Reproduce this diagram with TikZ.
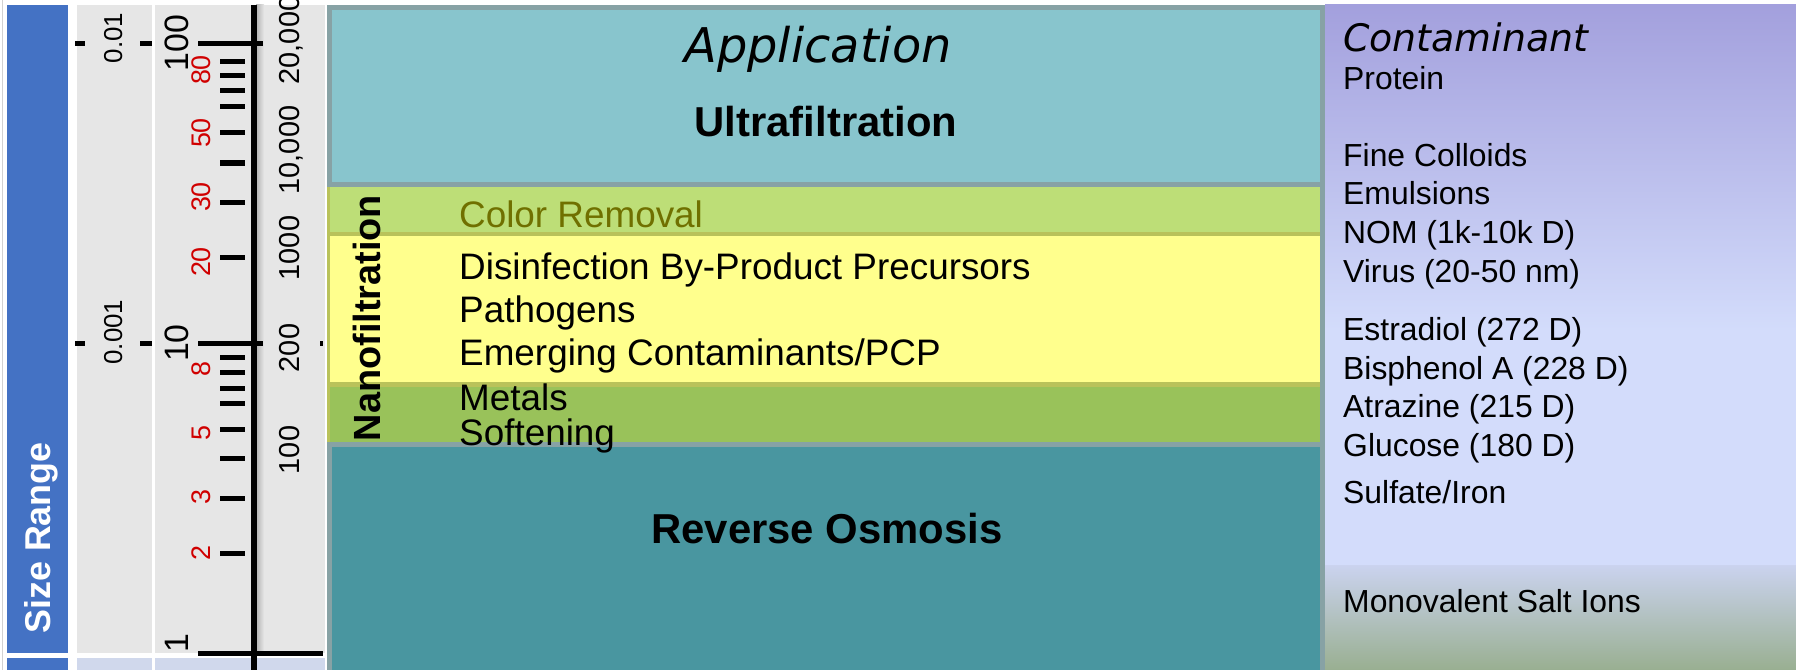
\documentclass[tikz,border=0pt]{standalone}
\usepackage{fontspec}
\setmainfont{Liberation Sans}
\newfontfamily\slantfont{DejaVu Sans}
\usepackage{tikz}
\usetikzlibrary{positioning}

\definecolor{sizeblue}{HTML}{4472C4}
\definecolor{scalegray}{HTML}{E6E6E6}
\definecolor{footblue}{HTML}{D0D8EC}
\definecolor{tickred}{HTML}{D00000}
\definecolor{ufteal}{HTML}{88C5CD}
\definecolor{roteal}{HTML}{4996A0}
\definecolor{panelrim}{HTML}{87A2A5}
\definecolor{colorgreen}{HTML}{BDDE77}
\definecolor{nfyellow}{HTML}{FFFF8D}
\definecolor{softgreen}{HTML}{99C25A}
\definecolor{oliveline}{HTML}{B9C25A}
\definecolor{olivetext}{HTML}{707000}
\definecolor{contamtop}{HTML}{A3A0DD}
\definecolor{contammid}{HTML}{D3DCFB}
\definecolor{contambot}{HTML}{99AF91}

\tikzset{
  fsz/.style={font=\fontsize{#1}{#1}\selectfont},
  bfsz/.style={font=\bfseries\fontsize{#1}{#1}\selectfont},
  vlbl/.style={rotate=90, anchor=base, inner sep=0pt},
  scaletick/.style={line width=5bp},
  boxtitle/.style={anchor=base, inner sep=0pt, bfsz=42},
  nfitem/.style={anchor=base west, inner sep=0pt, fsz=37},
  contam/.style={anchor=base west, inner sep=0pt, fsz=32},
}

\begin{document}
\begin{tikzpicture}[x=1bp, y=-1bp]
  \useasboundingbox (0,0) rectangle (1796,670);
  % size range strip and the two scale columns
  \draw[gray!35] (2.5,0) -- (2.5,670);
  \fill[sizeblue] (7,5) rectangle (68,653);
  \fill[sizeblue] (7,658) rectangle (68,670);
  \fill[scalegray] (77,5) rectangle (152,653);
  \fill[scalegray] (155,5) rectangle (325,653);
  \fill[footblue] (77,658) rectangle (152,670);
  \fill[footblue] (155,658) rectangle (325,670);
  \node[vlbl, white, bfsz=36] (size) at (50,538) {Size Range};

  % axis with its shadow
  \shade[left color=gray!60, right color=scalegray] (256,5) rectangle (264,653);
  \draw[line width=6bp] (253.5,5) -- (253.5,670);
  \foreach \y in {44,343} {
    \draw[scaletick] (198,\y) -- (263,\y);
    \draw[scaletick] (75,\y) -- (85,\y);
    \draw[scaletick] (140,\y) -- (152,\y);
  }
  \draw[scaletick] (198,653) -- (323,653);
  \draw[scaletick] (320,343) -- (323,343);
  \foreach \y in {62,76,91,107,133,163,202,257,357,372,388,403,429,458,498,553}
    \draw[scaletick] (220,\y) -- (245,\y);

  % scale labels
  \node[vlbl, fsz=26] (um01) at (122,38) {0.01};
  \node[vlbl, fsz=26] (um001) at (122,332) {0.001};
  \node[vlbl, fsz=34] (nm100) at (188,43) {100};
  \node[vlbl, fsz=34] (nm10) at (188,343) {10};
  \node[vlbl, fsz=34] (nm1) at (188,643) {1};
  \foreach \v/\y in {80/70,50/133,30/197,20/262,8/369,5/433,3/497,2/553}
    \node[vlbl, fsz=27, tickred] (r\v) at (210,\y) {\v};
  \foreach \v/\y/\n in {{20,000}/40/a,{10,000}/150/b,1000/248/c,200/348/d,100/450/e}
    \node[vlbl, fsz=29] (mw\n) at (299,\y) {\v};

  % application panel
  \filldraw[fill=ufteal, draw=panelrim, line width=5bp] (329.5,7.5) rectangle (1322.5,184.5);
  \fill[colorgreen] (327,187) rectangle (1320,232);
  \fill[oliveline] (327,232) rectangle (1320,236);
  \fill[nfyellow] (327,236) rectangle (1320,382);
  \fill[oliveline] (327,382) rectangle (1320,387);
  \fill[softgreen] (327,387) rectangle (1320,442);
  \draw[oliveline, line width=3bp] (328.5,187) -- (328.5,442);
  \draw[panelrim, line width=5bp] (1322.5,185) -- (1322.5,445);
  \filldraw[fill=roteal, draw=panelrim, line width=5bp] (329.5,444.5) rectangle (1322.5,680);

  \node[anchor=base, inner sep=0pt, font=\slantfont\itshape\fontsize{48}{48}\selectfont] (app) at (818,63) {Application};
  \node[boxtitle] (uf) at (826,137) {Ultrafiltration};
  \node[vlbl, bfsz=38] (nf) at (380,318) {Nanofiltration};
  \node[nfitem, olivetext] (color) at (459,227) {Color Removal};
  \node[nfitem] (dbp) at (459,279) {Disinfection By-Product Precursors};
  \node[nfitem] (path) at (459,322) {Pathogens};
  \node[nfitem] (emerg) at (459,365) {Emerging Contaminants/PCP};
  \node[nfitem] (metal) at (459,410) {Metals};
  \node[nfitem] (soft) at (459,445) {Softening};
  \node[boxtitle] (ro) at (827,543) {Reverse Osmosis};

  % contaminant column
  \shade[top color=contamtop, bottom color=contammid] (1325,5) rectangle (1796,330);
  \fill[contammid] (1325,330) rectangle (1796,565);
  \shade[top color=contammid!90!gray, bottom color=contambot] (1325,565) rectangle (1796,670);
  \node[anchor=base west, inner sep=0pt, font=\slantfont\itshape\fontsize{38}{38}\selectfont] (contam) at (1343,52) {Contaminant};
  \foreach \t/\y [count=\i] in {Protein/90, Fine Colloids/167, Emulsions/204,
      NOM (1k-10k D)/243, Virus (20-50 nm)/282, Estradiol (272 D)/340,
      Bisphenol A (228 D)/379, Atrazine (215 D)/417, Glucose (180 D)/456,
      {Sulfate/Iron}/503, Monovalent Salt Ions/612}
    \node[contam] (c\i) at (1343,\y) {\t};
\end{tikzpicture}
\end{document}
